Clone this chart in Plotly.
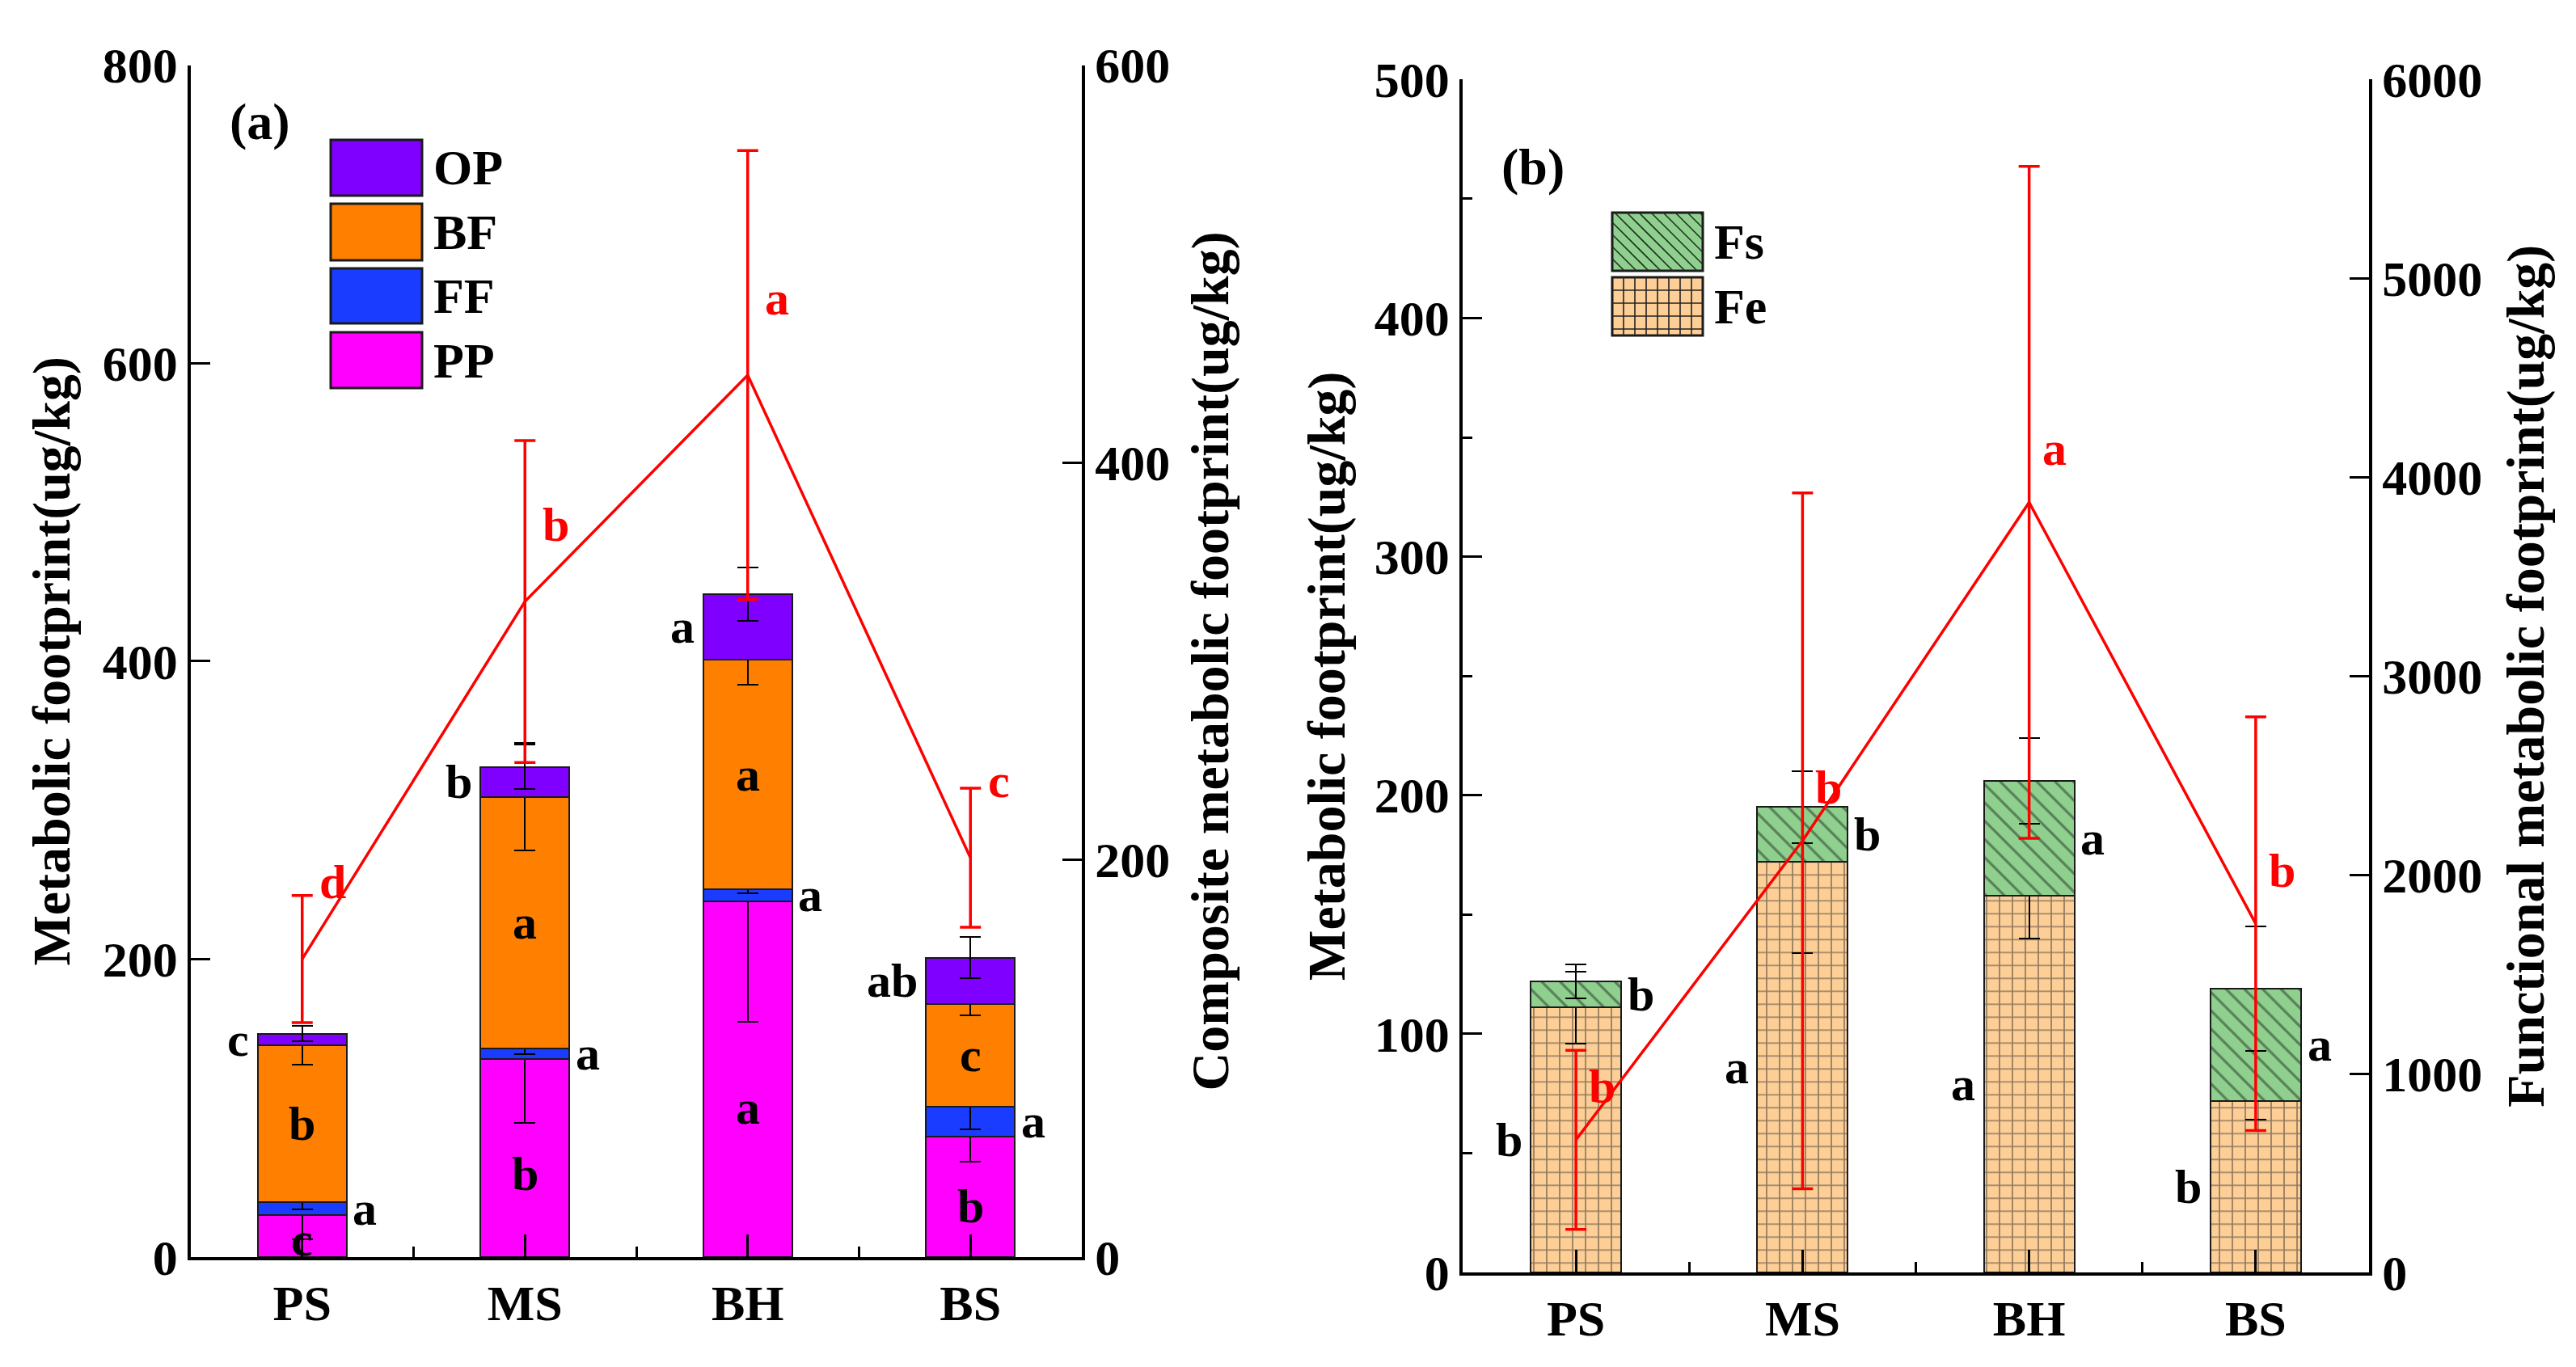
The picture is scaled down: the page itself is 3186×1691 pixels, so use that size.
import plotly.graph_objects as go

W, H = 3186, 1691
OFF = 8  # page body margin in the rendered html
FONT = "Liberation Serif, Times New Roman, serif"
RED = "#FF0000"
EDGE = "#1a1a1a"

SITES = ["PS", "MS", "BH", "BS"]

# ── panel (a): metabolic footprint components (ug/kg) ─────────────────────────
PP = [28, 133, 239, 81]
FF = [9, 7, 8, 20]
BF = [105, 169, 154, 69]
OP = [8, 20, 44, 31]
PP_ERR = [16, 43, 81, 17]
FF_ERR = [5, 4, 3, 15]
BF_ERR = [13, 36, 17, 8]
OP_ERR = [5, 15, 18, 14]
COMPOSITE = [150, 330, 444, 201]
COMPOSITE_ERR = [32, 81, 113, 35]
SIG_PP = ["c", "b", "a", "b"]
SIG_FF = ["a", "a", "a", "a"]
SIG_BF = ["b", "a", "a", "c"]
SIG_OP = ["c", "b", "a", "ab"]
SIG_COMPOSITE = ["d", "b", "a", "c"]

# ── panel (b): functional footprints (ug/kg) ──────────────────────────────────
FE = [111, 172, 158, 72]
FS = [11, 23, 48, 47]
FE_ERR = [15, 38, 18, 8]
FS_ERR = [7, 15, 18, 26]
FUNCTIONAL = [667, 2171, 3873, 1754]
FUNCTIONAL_ERR = [450, 1750, 1690, 1040]
SIG_FE = ["b", "a", "a", "b"]
SIG_FS = ["b", "b", "a", "a"]
SIG_FUNCTIONAL = ["b", "b", "a", "b"]

COLORS_A = {"PP": "#FF00FF", "FF": "#1A3CFF", "BF": "#FF8000", "OP": "#8000FF"}
FE_COLOR = "#FDCF97"
FS_COLOR = "#8FD08F"

idx = list(range(len(SITES)))


def px_x(v):
    return (v - OFF) / W


def px_y(v):
    return 1 - (v - OFF) / H


def seg_bar(y, err, name, color, xa, ya, pattern=None):
    marker = dict(color=color, line=dict(color=EDGE, width=2))
    if pattern:
        marker["pattern"] = pattern
    return go.Bar(
        x=idx, y=y, name=name, width=0.4, marker=marker,
        error_y=dict(type="data", array=err, color="black", thickness=2, width=13),
        xaxis=xa, yaxis=ya, showlegend=False,
    )


def red_line(y, err, xa, ya):
    return go.Scatter(
        x=idx, y=y, mode="lines", line=dict(color=RED, width=3.5),
        error_y=dict(type="data", array=err, color=RED, thickness=3.5, width=13),
        xaxis=xa, yaxis=ya, showlegend=False,
    )


fig = go.Figure()
fig.add_trace(seg_bar(PP, PP_ERR, "PP", COLORS_A["PP"], "x", "y"))
fig.add_trace(seg_bar(FF, FF_ERR, "FF", COLORS_A["FF"], "x", "y"))
fig.add_trace(seg_bar(BF, BF_ERR, "BF", COLORS_A["BF"], "x", "y"))
fig.add_trace(seg_bar(OP, OP_ERR, "OP", COLORS_A["OP"], "x", "y"))
fig.add_trace(red_line(COMPOSITE, COMPOSITE_ERR, "x", "y2"))

grid = dict(shape="+", fillmode="overlay", fgcolor="#222222", size=16, solidity=0.2)
hatch = dict(shape="\\", fillmode="overlay", fgcolor="#1f2f1f", size=16, solidity=0.2)
fig.add_trace(seg_bar(FE, FE_ERR, "Fe", FE_COLOR, "x2", "y3", grid))
fig.add_trace(seg_bar(FS, FS_ERR, "Fs", FS_COLOR, "x2", "y3", hatch))
fig.add_trace(red_line(FUNCTIONAL, FUNCTIONAL_ERR, "x2", "y4"))

# ── annotations: significance letters ─────────────────────────────────────────
ann = []
letter_font = dict(family=FONT, size=60, color="black", weight="bold")
red_font = dict(family=FONT, size=60, color=RED, weight="bold")


def letter(x, y, text, xref, yref, font, xanchor="center", yshift=0):
    ann.append(dict(x=x, y=y, text=text, xref=xref, yref=yref, showarrow=False,
                    font=font, xanchor=xanchor, yanchor="middle", yshift=yshift))


for i in idx:
    base_bf = PP[i] + FF[i]
    base_op = base_bf + BF[i]
    letter(i, PP[i] * 0.42, SIG_PP[i], "x", "y", letter_font)
    letter(i + 0.22, PP[i] + FF[i] / 2, SIG_FF[i], "x", "y", letter_font, "left")
    letter(i, base_bf + BF[i] / 2, SIG_BF[i], "x", "y", letter_font)
    letter(i - 0.23, base_op + OP[i] / 2, SIG_OP[i], "x", "y", letter_font, "right")
    letter(i + 0.07, COMPOSITE[i], SIG_COMPOSITE[i], "x", "y2", red_font, "left", 95)

    letter(i - 0.23, FE[i] / 2, SIG_FE[i], "x2", "y3", letter_font, "right")
    letter(i + 0.22, FE[i] + FS[i] / 2, SIG_FS[i], "x2", "y3", letter_font, "left")
    letter(i + 0.05, FUNCTIONAL[i], SIG_FUNCTIONAL[i], "x2", "y4", red_font, "left", 66)

panel_font = dict(family=FONT, size=64, color="black", weight="bold")
legend_font = dict(family=FONT, size=62, color="black", weight="bold")
for label, cx, cy in [("(a)", 321, 150), ("(b)", 1896, 206)]:
    ann.append(dict(x=px_x(cx), y=px_y(cy), text=label, xref="paper", yref="paper",
                    xanchor="center", yanchor="middle", showarrow=False,
                    font=panel_font))

# ── hand-drawn legends (large swatches) ───────────────────────────────────────
shapes = []


def swatch(x0, y0, x1, y1, color):
    shapes.append(dict(type="rect", xref="paper", yref="paper",
                       x0=px_x(x0), x1=px_x(x1), y0=px_y(y1), y1=px_y(y0),
                       fillcolor=color, line=dict(color=EDGE, width=3), layer="above"))


def pline(xa, ya, xb, yb, color, width=1.6):
    shapes.append(dict(type="line", xref="paper", yref="paper",
                       x0=px_x(xa), y0=px_y(ya), x1=px_x(xb), y1=px_y(yb),
                       line=dict(color=color, width=width), layer="above"))


def legend_label(x, y, text):
    ann.append(dict(x=px_x(x), y=px_y(y), text=text, xref="paper", yref="paper",
                    showarrow=False, xanchor="left", yanchor="middle", font=legend_font))


legend_a = [("OP", 173, 242), ("BF", 252, 322), ("FF", 332, 400), ("PP", 411, 480)]
for name, top, bot in legend_a:
    swatch(409, top, 522, bot, COLORS_A[name])
    legend_label(534, (top + bot) / 2, name)

# Fs swatch with diagonal hatch
fx0, fx1, fs_top, fs_bot = 1994, 2106, 263, 335
swatch(fx0, fs_top, fx1, fs_bot, FS_COLOR)
step = 15
c = fx0 - fs_bot
while c < fx1 - fs_top:
    xa, ya = c + fs_top, fs_top
    if xa < fx0:
        xa, ya = fx0, fx0 - c
    xb, yb = c + fs_bot, fs_bot
    if xb > fx1:
        xb, yb = fx1, fx1 - c
    if xb > xa:
        pline(xa, ya, xb, yb, "#1f2f1f")
    c += step
legend_label(2118, (fs_top + fs_bot) / 2, "Fs")

# Fe swatch with grid
fe_top, fe_bot = 343, 415
swatch(fx0, fe_top, fx1, fe_bot, FE_COLOR)
gx = fx0 + 14
while gx < fx1:
    pline(gx, fe_top, gx, fe_bot, "#222222")
    gx += 14
gy = fe_top + 16
while gy < fe_bot:
    pline(fx0, gy, fx1, gy, "#222222")
    gy += 16
legend_label(2118, (fe_top + fe_bot) / 2, "Fe")

# ── axes ──────────────────────────────────────────────────────────────────────
tick_font = dict(family=FONT, size=62, color="black", weight="bold")
title_font = dict(family=FONT, size=66, color="black", weight="bold")


def xaxis(domain, anchor):
    return dict(
        domain=domain, anchor=anchor, range=[-0.5, 3.5], automargin=False,
        tickvals=idx, ticktext=SITES, ticks="inside", ticklen=28, tickwidth=2.5,
        tickcolor="black", tickfont=tick_font,
        minor=dict(ticks="inside", tick0=0.5, dtick=1, ticklen=13, tickwidth=2.5,
                   tickcolor="black"),
        showline=True, linecolor="black", linewidth=3.5,
        showgrid=False, zeroline=False, fixedrange=True,
    )


def yaxis(domain, rng, dtick, title, side="left", overlaying=None, anchor=None,
          minor=None, standoff=22):
    ax = dict(
        range=rng, dtick=dtick, tick0=0, side=side, automargin=False,
        ticks="inside", ticklen=24, tickwidth=2.5, tickcolor="black",
        tickfont=tick_font,
        title=dict(text=title, font=title_font, standoff=standoff),
        showline=True, linecolor="black", linewidth=3.5,
        showgrid=False, zeroline=False, fixedrange=True,
    )
    if domain is not None:
        ax["domain"] = domain
    if overlaying:
        ax["overlaying"] = overlaying
    if anchor:
        ax["anchor"] = anchor
    if minor:
        ax["minor"] = minor
    return ax


ydom_a = [px_y(1555), px_y(80.7)]
ydom_b = [px_y(1574), px_y(98.3)]

fig.update_layout(
    width=W, height=H,
    margin=dict(l=0, r=0, t=0, b=0, autoexpand=False),
    paper_bgcolor="white", plot_bgcolor="rgba(0,0,0,0)",
    barmode="stack", showlegend=False,
    font=dict(family=FONT, color="black"),
    xaxis=xaxis([px_x(236), px_x(1338)], "y"),
    yaxis=yaxis(ydom_a, [0, 800], 200, "Metabolic footprint(ug/kg)", anchor="x",
                standoff=20),
    yaxis2=yaxis(None, [0, 600], 200, "Composite metabolic footprint(ug/kg)",
                 side="right", overlaying="y", anchor="x", standoff=28),
    xaxis2=xaxis([px_x(1809), px_x(2930)], "y3"),
    yaxis3=yaxis(ydom_b, [0, 500], 100, "Metabolic footprint(ug/kg)", anchor="x2",
                 standoff=16,
                 minor=dict(ticks="inside", dtick=50, ticklen=12, tickwidth=2.5,
                            tickcolor="black")),
    yaxis4=yaxis(None, [0, 6000], 1000, "Functional metabolic footprint(ug/kg)",
                 side="right", overlaying="y3", anchor="x2", standoff=32),
    annotations=ann,
    shapes=shapes,
)

fig.write_html("out.html")
